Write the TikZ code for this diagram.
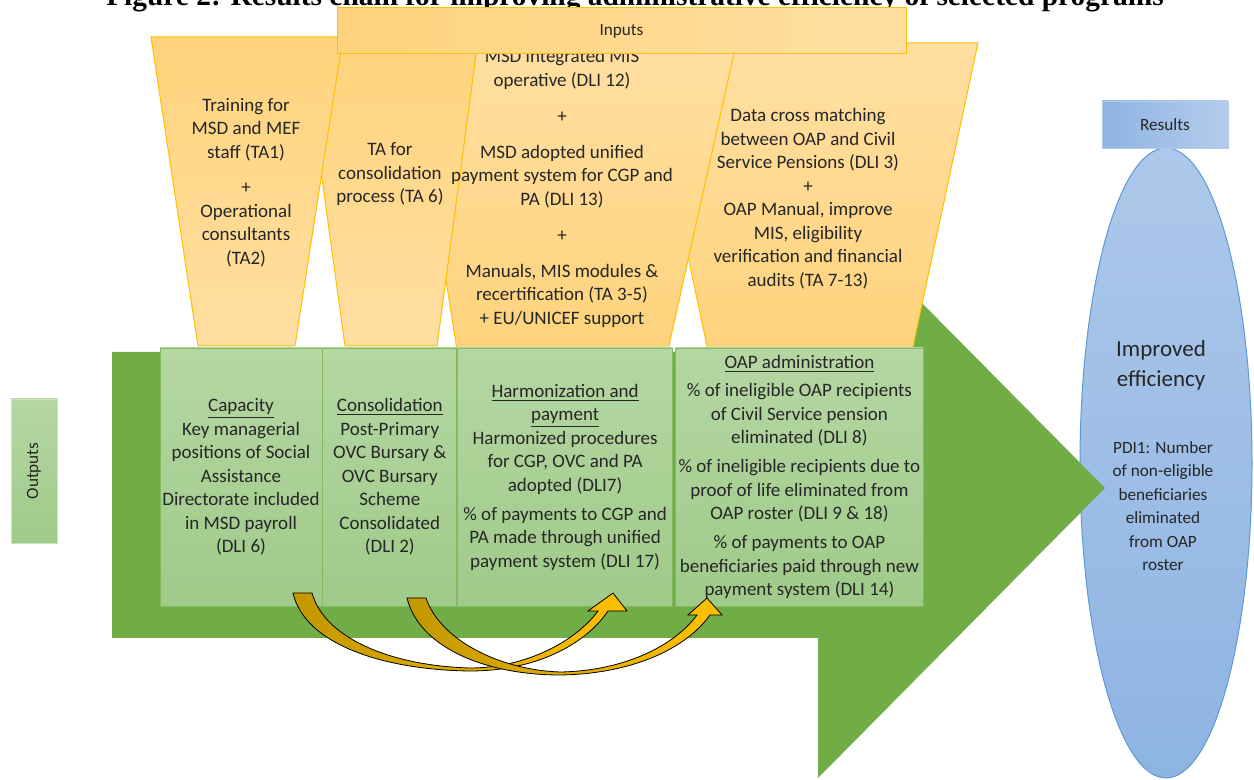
\documentclass[tikz,border=0pt]{standalone}
\usepackage{fontspec}
\setmainfont{Carlito}
\newfontfamily\titlefont{Liberation Serif}
\usetikzlibrary{positioning,shapes.geometric}

\definecolor{arrowgreen}{HTML}{70AD47}
\definecolor{boxtop}{HTML}{B5D7A3}
\definecolor{boxbot}{HTML}{9FCA89}
\definecolor{boxline}{HTML}{82BA60}
\definecolor{funA}{HTML}{FFD37C}
\definecolor{funB}{HTML}{FFDFA2}
\definecolor{funline}{HTML}{FFC000}
\definecolor{golddark}{HTML}{C29800}
\definecolor{goldlight}{HTML}{FFC000}
\definecolor{resA}{HTML}{8EB4E3}
\definecolor{resB}{HTML}{B4CCEA}
\definecolor{elltop}{HTML}{ADC8EA}
\definecolor{ellbot}{HTML}{8EB4E2}
\definecolor{ellline}{HTML}{5B9BD5}
\definecolor{txt}{HTML}{262626}

\begin{document}
\begin{tikzpicture}[x=0.5pt,y=-0.5pt,
            funnel/.style={
              draw=funline,
              line width=0.5pt
            },
            funtext/.style={
              align=center,
              text=txt,
              inner sep=0pt,
              font=\fontsize{9.5}{11.75}\selectfont
            },
            outbox/.style={
              draw=boxline,
              top color=boxtop,
              bottom color=boxbot,
              minimum height=129pt,
              inner sep=0pt,
              align=center,
              text=txt,
              font=\fontsize{9.5}{11.75}\selectfont
            },
            smalllabel/.style={
              text=txt,
              font=\fontsize{8.6}{10}\selectfont
            },
            goldarrow/.style={
              draw=black,
              line width=0.4pt,
              left color=golddark,
              right color=goldlight
            }
            ]
            \useasboundingbox (0,0) rectangle (1254,780);
            \fill[white] (0,0) rectangle (1254,780);
            \clip (0,0) rectangle (1254,780);

            \node[font=\titlefont\bfseries\fontsize{14.7}{16}\selectfont,anchor=base] 
              (title) at (635,6) {Figure 2: Results chain for improving administrative efficiency of selected programs};

            % results side
            \node[ellipse,draw=ellline,line width=0.5pt,top color=elltop,bottom color=ellbot,
              minimum width=86pt,minimum height=315pt] 
              (effic) at (1166,463) {};
            \node[draw=resB,left color=resA,right color=resB,minimum width=63pt,minimum height=23.5pt,smalllabel] 
              (results) at (1165,124.5) {Results};

            % big arrow
            \fill[arrowgreen] (112,352) -- (818,352) -- (818,198) -- (1105,488) -- (818,778) 
              -- (818,638) -- (112,638) -- cycle;

            % funnels, back to front
            \draw[funnel,top color=funB,bottom color=funA] (643,43) -- (978,43) -- (912,351) -- (708,351) -- cycle;
            \draw[funnel,top color=funB,bottom color=funA] (408,40) -- (737,40) -- (668,350) -- (457,350) -- cycle;
            \draw[funnel,top color=funA,bottom color=funB] (303,40) -- (478,40) -- (437,346) -- (345,346) -- cycle;
            \draw[funnel,top color=funA,bottom color=funB] (151,37) -- (343,37) -- (295,346) -- (198,346) -- cycle;

            \node[funtext] (mistxt) at (562,188.5) 
              {MSD integrated MIS\\ operative (DLI 12)\\[6.5pt] +\\[6pt] MSD adopted unified\\
               payment system for CGP and\\ PA (DLI 13)\\[6.5pt] +\\[6pt] Manuals, MIS modules \&\\
               recertification (TA 3-5)\\ + EU/UNICEF support};

            \node[draw=funline,line width=0.5pt,left color=funA,right color=funB,
              minimum width=284.5pt,minimum height=23pt,smalllabel] 
              (inputs) at (621.5,31) {Inputs};

            \node[funtext] (trainingtxt) at (246,182.5) 
              {Training for\\ MSD and MEF\\ staff (TA1)\\[6pt] +\\ Operational\\ consultants\\ (TA2)};
            \node[funtext] (tatxt) at (390,174.5) 
              {TA for\\ consolidation\\ process (TA 6)};
            \node[funtext] (matchtxt) at (808,198.5) 
              {Data cross matching\\ between OAP and Civil\\ Service Pensions (DLI 3)\\ +\\
               OAP Manual, improve\\ MIS, eligibility\\ verification and financial\\ audits (TA 7-13)};

            % output boxes
            \node[outbox,minimum width=81pt] (capacity) at (241,477) 
              {\underline{Capacity}\\ Key managerial\\ positions of Social\\ Assistance\\
               Directorate included\\ in MSD payroll\\ (DLI 6)};
            \node[outbox,minimum width=67pt,right=0pt of capacity] (consol) 
              {\underline{Consolidation}\\ Post-Primary\\ OVC Bursary \&\\ OVC Bursary\\
               Scheme\\ Consolidated\\ (DLI 2)};
            \node[outbox,minimum width=107.5pt,right=0pt of consol] (harmon) 
              {\underline{Harmonization and}\\ \underline{payment}\\ Harmonized procedures\\
               for CGP, OVC and PA\\ adopted (DLI7)\\[2.75pt] \% of payments to CGP and\\
               PA made through unified\\ payment system (DLI 17)};
            \node[outbox,minimum width=124pt,right=1pt of harmon] (oap) 
              {\underline{OAP administration}\\[2.25pt] \% of ineligible OAP recipients\\
               of Civil Service pension\\ eliminated (DLI 8)\\[2.75pt]
               \% of ineligible recipients due to\\ proof of life eliminated from\\
               OAP roster (DLI 9 \& 18)\\[2.75pt] \% of payments to OAP\\
               beneficiaries paid through new\\ payment system (DLI 14)};

            % curved arrows
            \path[goldarrow] (293,593) .. controls (305,645) and (385,670) .. (470,671) 
              .. controls (535,671) and (585,645) .. (608,611) -- (627,611) -- (613,593) -- (588,611) 
              -- (598,611) .. controls (575,642) and (525,668) .. (470,668) 
              .. controls (395,666) and (325,640) .. (312,593) -- cycle;
            \path[goldarrow] (407,598) .. controls (420,650) and (490,675) .. (560,675) 
              .. controls (630,674) and (685,650) .. (710,615) -- (722,615) -- (707,598) -- (688,615) 
              -- (697,615) .. controls (675,645) and (625,671) .. (560,672) 
              .. controls (500,670) and (440,640) .. (426,598) -- cycle;

            \node[draw=boxtop!70!white,top color=boxtop,bottom color=boxbot,
              minimum width=23pt,minimum height=72pt] 
              (outputs) at (34,471) {};
            \node[smalllabel,rotate=90] (outputstxt) at (outputs.center) {Outputs};

            \node[text=txt,align=center,font=\fontsize{11.5}{15}\selectfont] 
              (improved) at (1161,365) {Improved\\ efficiency};
            \node[text=txt,align=center,font=\fontsize{8.6}{11.7}\selectfont] 
              (pdi) at (1163,506) {PDI1: Number\\ of non-eligible\\ beneficiaries\\ eliminated\\ from OAP\\ roster};
\end{tikzpicture}
\end{document}
